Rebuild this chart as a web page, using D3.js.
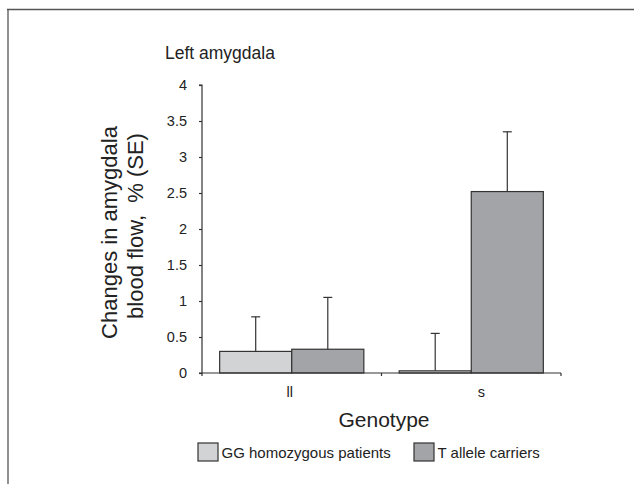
<!DOCTYPE html>
<html>
<head>
<meta charset="utf-8">
<script src="https://cdn.jsdelivr.net/npm/d3@7"></script>
<style>
  html, body { margin: 0; padding: 0; background: #fff; }
  svg { display: block; font-family: "Liberation Sans", Arial, Helvetica, sans-serif; }
</style>
</head>
<body>
<svg id="chart" width="634" height="484"></svg>
<script>
// ---- data ----
const categories = ["ll", "s"];
const seriesNames = ["GG homozygous patients", "T allele carriers"];
const ggValues = [0.30, 0.03];
const ggErrors = [0.48, 0.52];
const tValues = [0.33, 2.52];
const tErrors = [0.72, 0.83];
const yTicks = [0, 0.5, 1, 1.5, 2, 2.5, 3, 3.5, 4];
const seriesColors = ["#d2d3d5", "#a3a4a7"];

const title = "Left amygdala";
const yLabelLines = ["Changes in amygdala", "blood flow,  % (SE)"];
const xLabel = "Genotype";

// ---- layout ----
const svg = d3.select("#chart");
const stroke = "#333";
const plotLeft = 202, plotRight = 561, plotTop = 85, plotBottom = 373;

// frame lines (top and left)
svg.append("line").attr("x1", 7).attr("x2", 634).attr("y1", 9.5).attr("y2", 9.5)
  .attr("stroke", "#555").attr("stroke-width", 1.3);
svg.append("line").attr("x1", 8).attr("x2", 8).attr("y1", 9).attr("y2", 484)
  .attr("stroke", "#555").attr("stroke-width", 1.3);

const y = d3.scaleLinear().domain([0, 4]).range([plotBottom, plotTop]);
const x0 = d3.scaleBand().domain(categories).range([plotLeft, plotRight]).padding(0);
const x1 = d3.scaleBand().domain(seriesNames).range([0, x0.bandwidth()])
  .paddingInner(0).paddingOuter(0.245);

const rows = [];
categories.forEach((c, i) => {
  rows.push({ cat: c, s: seriesNames[0], v: ggValues[i], e: ggErrors[i], color: seriesColors[0] });
  rows.push({ cat: c, s: seriesNames[1], v: tValues[i], e: tErrors[i], color: seriesColors[1] });
});

// bars
svg.append("g").selectAll("rect").data(rows).join("rect")
  .attr("x", d => x0(d.cat) + x1(d.s))
  .attr("y", d => y(d.v))
  .attr("width", x1.bandwidth())
  .attr("height", d => y(0) - y(d.v))
  .attr("fill", d => d.color)
  .attr("stroke", stroke).attr("stroke-width", 1.2);

// error bars (upper only)
const eg = svg.append("g").attr("stroke", stroke).attr("stroke-width", 1.2);
rows.forEach(d => {
  const cx = x0(d.cat) + x1(d.s) + x1.bandwidth() / 2;
  eg.append("line").attr("x1", cx).attr("x2", cx).attr("y1", y(d.v)).attr("y2", y(d.v + d.e));
  eg.append("line").attr("x1", cx - 4.5).attr("x2", cx + 4.5).attr("y1", y(d.v + d.e)).attr("y2", y(d.v + d.e));
});

// y axis
const yAxis = d3.axisLeft(y).tickValues(yTicks).tickSize(3).tickPadding(12)
  .tickFormat(d => String(d));
const yg = svg.append("g").attr("transform", `translate(${plotLeft},0)`).call(yAxis);
yg.selectAll("path, line").attr("stroke", stroke).attr("stroke-width", 1.2);
yg.select(".domain").attr("d", `M-3,${plotTop}H0V${plotBottom}H-3`);
yg.selectAll("text").attr("font-size", "14.5px").attr("fill", "#222")
  .attr("font-family", "Liberation Sans, Arial, sans-serif");

// x axis
const xg = svg.append("g").attr("transform", `translate(0,${plotBottom})`);
xg.append("line").attr("x1", plotLeft).attr("x2", plotRight).attr("y1", 0).attr("y2", 0)
  .attr("stroke", stroke).attr("stroke-width", 1.2);
const tickPos = categories.map(c => x0(c)).concat([x0(categories[categories.length - 1]) + x0.bandwidth()]);
xg.selectAll("line.tick").data(tickPos).join("line").attr("class", "tick")
  .attr("x1", d => d).attr("x2", d => d).attr("y1", 0).attr("y2", 3)
  .attr("stroke", stroke).attr("stroke-width", 1.2);
const labelShift = { "ll": -2, "s": 10 };
xg.selectAll("text").data(categories).join("text")
  .attr("x", d => x0(d) + x0.bandwidth() / 2 + labelShift[d])
  .attr("y", 23.5)
  .attr("text-anchor", "middle").attr("font-size", "14.5px").attr("fill", "#222")
  .text(d => d);

// title
svg.append("text").attr("x", 165).attr("y", 59).attr("font-size", "17.5px").attr("fill", "#222")
  .text(title);

// y label
const yl = svg.append("text").attr("transform", "rotate(-90)").attr("font-size", "22px")
  .attr("fill", "#222").attr("text-anchor", "middle");
yl.append("tspan").attr("x", -232.5).attr("y", 117).text(yLabelLines[0]);
yl.append("tspan").attr("x", -226).attr("y", 143).text(yLabelLines[1])
  .style("white-space", "pre");

// x label
svg.append("text").attr("x", 384).attr("y", 427).attr("text-anchor", "middle")
  .attr("font-size", "21px").attr("fill", "#222").text(xLabel);

// legend
const legendX = [198, 414];
const lg = svg.append("g");
seriesNames.forEach((s, i) => {
  lg.append("rect").attr("x", legendX[i]).attr("y", 443).attr("width", 20).attr("height", 18)
    .attr("fill", seriesColors[i]).attr("stroke", stroke).attr("stroke-width", 1.2);
  lg.append("text").attr("x", legendX[i] + 23.5).attr("y", 457.5).attr("font-size", "15px")
    .attr("fill", "#222").text(s);
});
</script>
</body>
</html>
